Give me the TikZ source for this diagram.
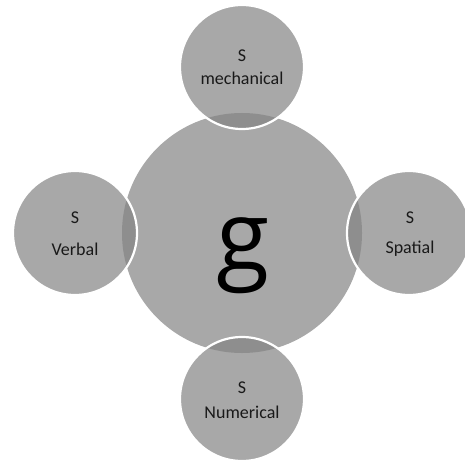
\documentclass[tikz,border=0pt]{standalone}
\usepackage{fontspec}
\setmainfont{Carlito}
\newfontfamily\gfont{Open Sans}
\definecolor{cgray}{RGB}{168,168,168}
\definecolor{cdark}{RGB}{142,142,142}
\definecolor{ctext}{RGB}{25,25,25}
\begin{document}
\begin{tikzpicture}[x=1pt,y=-1pt,
  lbl/.style={font=\fontsize{18}{22}\selectfont, text=ctext, inner sep=0pt, anchor=center},
  ring/.style={draw=white, line width=2.2pt}]
\useasboundingbox (0,0) rectangle (465,465);
\fill[white] (0,0) rectangle (465,465);
\def\R{120}\def\r{62}
\coordinate (G) at (242,233);
\fill[cgray] (G) circle (\R);
\foreach \name/\cx/\cy in {top/242/67, left/75/233, right/409/233, bottom/242/399}{
  \coordinate (\name) at (\cx,\cy);
  \fill[cgray] (\name) circle (\r);
  \begin{scope}
    \clip (\name) circle (\r);
    \fill[cdark] (G) circle (\R);
  \end{scope}
  \draw[ring] (\name) circle (\r);
}
\node[font=\gfont\fontsize{97}{97}\selectfont, text=black, inner sep=0pt] (g) at (243,256) {g};
\node[lbl] (t1) at (242,56) {S};
\node[lbl] (t2) at (242,78) {mechanical};
\node[lbl] (l1) at (75,218) {S};
\node[lbl] (l2) at (75,249) {Verbal};
\node[lbl] (r1) at (410,218) {S};
\node[lbl] (r2) at (410,249) {Spatial};
\node[lbl] (b1) at (242,388) {S};
\node[lbl] (b2) at (242,412) {Numerical};
\end{tikzpicture}
\end{document}
